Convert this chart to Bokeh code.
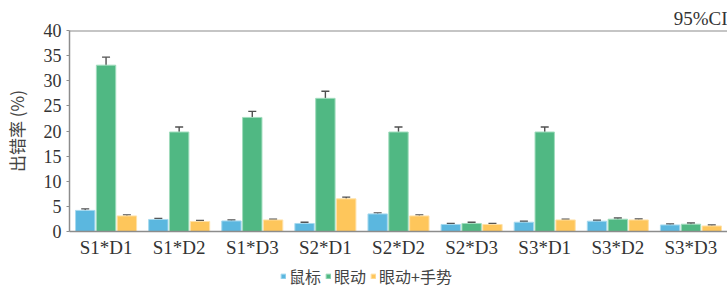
from bokeh.plotting import figure
from bokeh.layouts import column
from bokeh.models import FactorRange, ColumnDataSource, Whisker, TeeHead, Legend, LegendItem, Range1d, Title, Span
from bokeh.transform import dodge
from bokeh.embed import file_html
from bokeh.resources import INLINE

categories = ["S1*D1", "S1*D2", "S1*D3", "S2*D1", "S2*D2", "S2*D3", "S3*D1", "S3*D2", "S3*D3"]
series_names = ["鼠标", "眼动", "眼动+手势"]
mouse = [4.2, 2.4, 2.1, 1.6, 3.5, 1.4, 1.85, 2.05, 1.3]
mouse_err = [0.3, 0.2, 0.2, 0.25, 0.2, 0.2, 0.2, 0.2, 0.2]
eye = [33.1, 19.8, 22.7, 26.5, 19.8, 1.6, 19.8, 2.45, 1.45]
eye_err = [1.6, 1.0, 1.2, 1.4, 1.0, 0.25, 1.0, 0.25, 0.25]
gesture = [3.1, 2.0, 2.3, 6.5, 3.1, 1.4, 2.3, 2.3, 1.1]
gesture_err = [0.2, 0.2, 0.15, 0.35, 0.2, 0.2, 0.15, 0.2, 0.2]
y_ticks = [0, 5, 10, 15, 20, 25, 30, 35, 40]

colors = ["#5bb7df", "#50b883", "#fec65b"]
edge_colors = ["#a6d9ef", "#a0dcbd", "#ffe1a8"]

serif = "Liberation Serif"
cjk = "Noto Sans CJK SC"

src = ColumnDataSource(dict(cat=categories, mouse=mouse, eye=eye, gesture=gesture,
                            m_lo=[v - e for v, e in zip(mouse, mouse_err)],
                            m_hi=[v + e for v, e in zip(mouse, mouse_err)],
                            e_lo=[v - e for v, e in zip(eye, eye_err)],
                            e_hi=[v + e for v, e in zip(eye, eye_err)],
                            g_lo=[v - e for v, e in zip(gesture, gesture_err)],
                            g_hi=[v + e for v, e in zip(gesture, gesture_err)]))

p = figure(x_range=FactorRange(*categories), y_range=Range1d(0, 40),
           width=727, height=263, output_backend="svg", toolbar_location=None,
           min_border_left=67, min_border_right=0, min_border_top=30, min_border_bottom=32)
p.title = Title(text="95%CI", align="right", text_font=serif, text_font_style="normal",
                text_font_size="19px", text_color="#333333", standoff=4, offset=0)

offsets = [-0.285, 0.0, 0.285]
fields = ["mouse", "eye", "gesture"]
los = ["m_lo", "e_lo", "g_lo"]
his = ["m_hi", "e_hi", "g_hi"]
for i in range(3):
    p.vbar(x=dodge("cat", offsets[i], range=p.x_range), top=fields[i], width=0.265,
           source=src, fill_color=colors[i], line_color=edge_colors[i], line_width=1)
    w = Whisker(base=dodge("cat", offsets[i], range=p.x_range), lower=los[i], upper=his[i],
                source=src, line_color="#505050", line_width=1.4,
                upper_head=TeeHead(size=8, line_color="#505050", line_width=1.4),
                lower_head=TeeHead(size=8, line_color="#505050", line_width=1.4))
    p.add_layout(w)

p.xgrid.visible = False
p.ygrid.visible = False
p.outline_line_color = None

p.add_layout(Span(location=40, dimension="width", line_color="#8c8c8c", line_width=2))

p.yaxis.ticker = y_ticks
p.yaxis.axis_line_color = "#8c8c8c"
p.yaxis.axis_line_width = 1.5
p.yaxis.major_tick_line_color = "#8c8c8c"
p.yaxis.major_tick_out = 3
p.yaxis.major_tick_in = 0
p.yaxis.minor_tick_line_color = None
p.yaxis.major_label_text_font = serif
p.yaxis.major_label_text_font_size = "18px"
p.yaxis.major_label_text_color = "#333333"
p.yaxis.major_label_standoff = 5
p.yaxis.axis_label = "出错率 (%)"
p.yaxis.axis_label_text_font = cjk
p.yaxis.axis_label_text_font_size = "17px"
p.yaxis.axis_label_text_font_style = "normal"
p.yaxis.axis_label_text_color = "#444444"
p.yaxis.axis_label_standoff = 12

p.xaxis.axis_line_color = "#8c8c8c"
p.xaxis.axis_line_width = 1.5
p.xaxis.major_tick_line_color = None
p.xaxis.major_tick_out = 0
p.xaxis.major_tick_in = 0
p.xaxis.minor_tick_line_color = None
p.xaxis.major_label_text_font = serif
p.xaxis.major_label_text_font_size = "19px"
p.xaxis.major_label_text_color = "#333333"
p.xaxis.major_label_standoff = 5

# legend strip below the chart
q = figure(x_range=p.x_range, y_range=Range1d(100, 101), width=727, height=31,
           output_backend="svg", toolbar_location=None,
           min_border_left=0, min_border_right=0, min_border_top=0, min_border_bottom=0)
q.axis.visible = False
q.grid.visible = False
q.outline_line_color = None
items = []
for i in range(3):
    r = q.vbar(x=dodge("cat", offsets[i], range=q.x_range), top=fields[i], width=0.265,
               source=src, fill_color=colors[i], line_color=edge_colors[i], line_width=1)
    items.append(LegendItem(label=series_names[i], renderers=[r]))
legend = Legend(items=items, orientation="horizontal", location=(211, 6),
                label_text_font=cjk, label_text_font_size="16px", label_text_color="#444444",
                glyph_width=6, glyph_height=6, label_standoff=3, spacing=4, label_height=16,
                border_line_color=None, background_fill_alpha=0, padding=2, margin=0)
q.add_layout(legend)

open("out.html", "w").write(file_html(column(p, q, spacing=0), INLINE))
